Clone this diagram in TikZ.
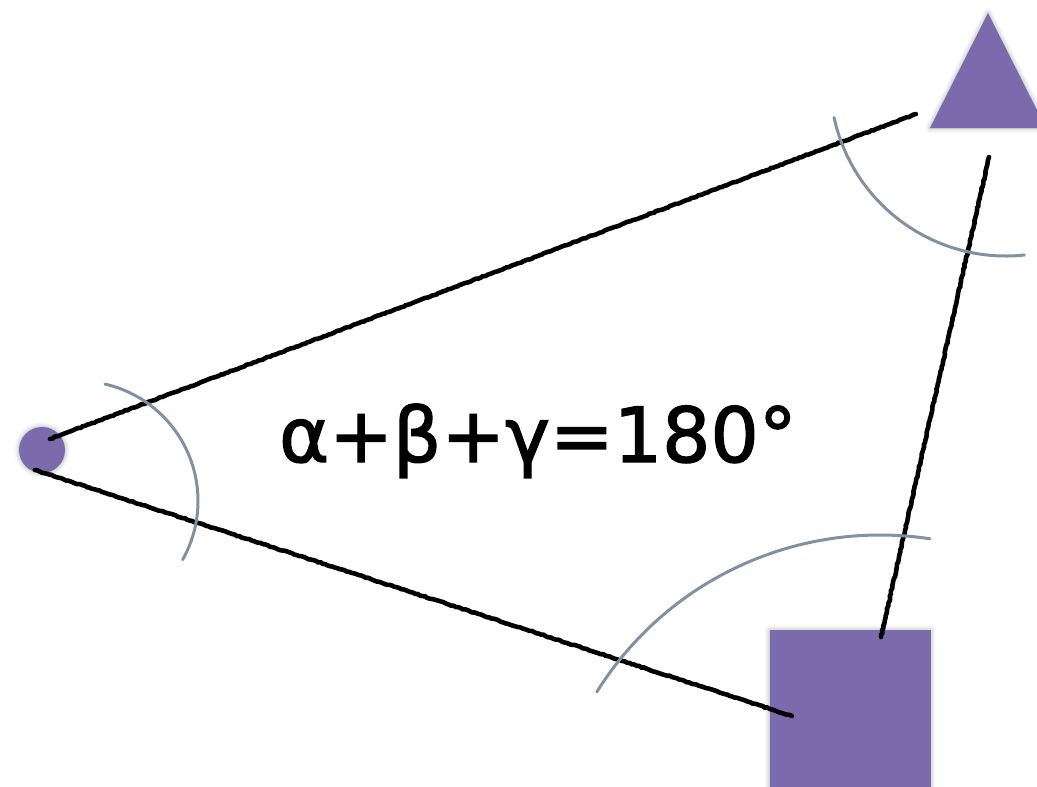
\documentclass[tikz,border=0pt]{standalone}
\usepackage{fontspec}
\newfontfamily\eqfont[FakeBold=1.8]{DejaVu Sans}
\usetikzlibrary{decorations.pathmorphing,shadows.blur}
\definecolor{shapepurple}{RGB}{123,107,172}
\definecolor{arcgrey}{RGB}{130,145,162}
\tikzset{
  shapefill/.style={fill=shapepurple,draw=none,blur shadow={shadow xshift=0pt,shadow yshift=0pt,shadow blur radius=5pt,shadow opacity=35}},
  sideline/.style={draw=black,line width=4.6pt,line cap=round,decorate,decoration={random steps,segment length=2.5pt,amplitude=0.5pt}},
  compassarc/.style={draw=arcgrey,line width=3pt,line cap=round},
  eqtext/.style={font=\eqfont\fontsize{76}{90}\selectfont,inner sep=0pt,anchor=base}
}
\begin{document}
\begin{tikzpicture}[x=1pt,y=-1pt]
\useasboundingbox (0,0) rectangle (1037,787);
% shapes
\node[shapefill,circle,minimum size=46pt,inner sep=0pt] (dot) at (42,450) {};
\node[shapefill,rectangle,minimum size=161pt,inner sep=0pt,anchor=north west] (sq) at (769.5,630) {};
\coordinate (triA) at (988,13);
\coordinate (triL) at (930,128);
\coordinate (triR) at (1046,128);
\path[shapefill] (triA) -- (triL) -- (triR) -- cycle;
% line end points
\coordinate (p1a) at (50,439);
\coordinate (p1b) at (916,114);
\coordinate (p2a) at (35,470);
\coordinate (p2b) at (792,716);
\coordinate (p3a) at (989,157);
\coordinate (p3b) at (881,637);
\draw[sideline] (p1a) -- (p1b);
\draw[sideline] (p2a) -- (p2b);
\draw[sideline] (p3a) -- (p3b);
% compass arcs
\coordinate (c1) at (78,501);
\coordinate (c2) at (1006,80);
\coordinate (c3) at (880,869);
\draw[compassarc] (c1) ++(-77:120) arc[start angle=-77,end angle=29.3,radius=120];
\draw[compassarc] (c2) ++(167.7:176) arc[start angle=167.7,end angle=84,radius=176];
\draw[compassarc] (c3) ++(-148:334) arc[start angle=-148,end angle=-81.4,radius=334];
% equation
\node[eqtext] (eq) at (538,462) {α+β+γ=180°};
\end{tikzpicture}
\end{document}
